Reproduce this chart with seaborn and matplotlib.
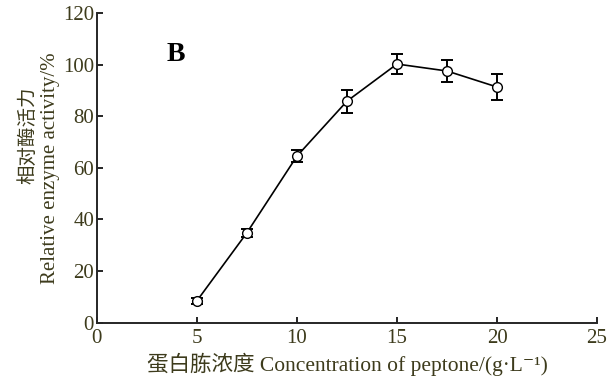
import matplotlib
matplotlib.use("Agg")
import matplotlib.pyplot as plt
import seaborn as sns
import pandas as pd

conc = [5, 7.5, 10, 12.5, 15, 17.5, 20]
activity = [8.4, 34.8, 64.5, 85.8, 100.2, 97.5, 91.3]
err = [1.2, 1.5, 2.3, 4.4, 3.8, 4.4, 5.0]
xticks = [0, 5, 10, 15, 20, 25]
yticks = [0, 20, 40, 60, 80, 100, 120]

sns.set_style("ticks")
plt.rcParams['font.family'] = ['Liberation Serif', 'Noto Sans CJK SC', 'DejaVu Serif']

df = pd.DataFrame({"conc": conc, "activity": activity, "err": err})

fig = plt.figure(figsize=(6.13, 3.81), dpi=100)
ax = fig.add_axes([0.158, 0.1535, 0.816, 0.8125])

ax.errorbar(df["conc"], df["activity"], yerr=df["err"], fmt="none",
            ecolor="black", elinewidth=1.4, capsize=4, capthick=1.4, zorder=2)
sns.lineplot(data=df, x="conc", y="activity", ax=ax, color="black", lw=1.2,
             marker="o", markersize=7, markerfacecolor="white",
             markeredgecolor="black", markeredgewidth=1.0, zorder=3)

ax.set_xlim(0, 25)
ax.set_ylim(0, 120)
ax.set_xticks(xticks)
ax.set_yticks(yticks)
label_color = "#3d3b1c"
ax.tick_params(direction="in", length=4, width=1.2, colors="black",
               labelcolor=label_color, labelsize=15)
ax.tick_params(axis="x", pad=5)
ax.tick_params(axis="y", pad=2)
for s in ["top", "right"]:
    ax.spines[s].set_visible(False)
for s in ["left", "bottom"]:
    ax.spines[s].set_linewidth(1.4)

ax.set_xlabel("蛋白胨浓度 Concentration of peptone/(g·L⁻¹)",
              fontsize=15.5, color=label_color, labelpad=3)
ax.set_ylabel("Relative enzyme activity/%", fontsize=15, color=label_color)
ax.yaxis.set_label_coords(-0.074, 0.50)
fig.text(28 / 613, 1 - 135 / 381, "相对酶活力", rotation=90, ha="center",
         va="center", fontsize=14, color=label_color)
ax.text(3.5, 104, "B", fontsize=20, fontweight="bold", va="center", ha="left",
        color="black")

fig.savefig("out.png", dpi=100)
